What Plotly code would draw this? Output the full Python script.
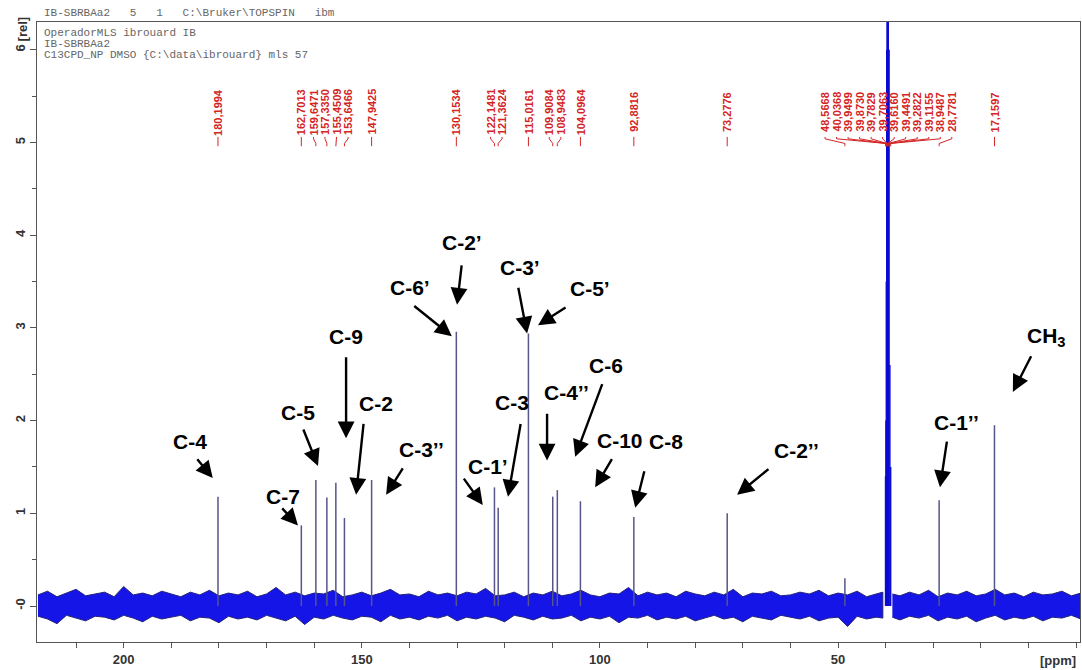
import plotly.graph_objects as go

# ---------------- data ----------------
peaks_ppm = [180.1994, 162.7013, 159.6471, 157.3350, 155.4509, 153.6466, 147.9425,
             130.1534, 122.1481, 121.3624, 115.0161, 109.9084, 108.9483, 104.0964,
             92.8816, 73.2776, 48.5668, 28.7781, 17.1597]
peaks_h = [1.18, 0.87, 1.36, 1.17, 1.33, 0.95, 1.36,
           2.96, 1.28, 1.06, 2.94, 1.18, 1.25, 1.13,
           0.96, 1.00, 0.30, 1.14, 1.95]

dmso_ppm = [40.0368, 39.9499, 39.8730, 39.7829, 39.7063, 39.6160,
            39.4491, 39.2822, 39.1155, 38.9487]
dmso_h = [1.4, 2.0, 3.5, 6.0, 9.0, 9.0, 9.0, 6.0, 2.6, 1.5]

# baseline noise envelope
noise_left_ppm = list(range(218, 41, -2)) + [40.6]
noise_left_hi = [0.12, 0.16, 0.10, 0.14, 0.18, 0.11, 0.13, 0.15, 0.10, 0.21,
                 0.12, 0.14, 0.11, 0.16, 0.13, 0.10, 0.15, 0.12, 0.17, 0.11,
                 0.14, 0.12, 0.16, 0.10, 0.13, 0.20, 0.12, 0.15, 0.11, 0.14,
                 0.13, 0.17, 0.10, 0.12, 0.15, 0.11, 0.14, 0.18, 0.12, 0.13,
                 0.10, 0.16, 0.12, 0.14, 0.11, 0.15, 0.13, 0.19, 0.11, 0.12,
                 0.15, 0.10, 0.14, 0.12, 0.16, 0.11, 0.13, 0.17, 0.12, 0.10,
                 0.14, 0.13, 0.20, 0.11, 0.15, 0.12, 0.14, 0.10, 0.16, 0.13,
                 0.11, 0.15, 0.12, 0.18, 0.10, 0.14, 0.13, 0.16, 0.11, 0.12,
                 0.15, 0.13, 0.17, 0.11, 0.14, 0.12, 0.16, 0.10, 0.13, 0.15]
noise_left_lo = [-0.11, -0.14, -0.19, -0.10, -0.13, -0.16, -0.11, -0.12, -0.15, -0.10,
                 -0.13, -0.17, -0.11, -0.14, -0.12, -0.10, -0.16, -0.12, -0.13, -0.18,
                 -0.11, -0.14, -0.12, -0.15, -0.10, -0.13, -0.16, -0.11, -0.20, -0.12,
                 -0.14, -0.10, -0.13, -0.15, -0.11, -0.12, -0.17, -0.10, -0.14, -0.12,
                 -0.15, -0.11, -0.13, -0.10, -0.16, -0.12, -0.14, -0.11, -0.13, -0.17,
                 -0.10, -0.12, -0.15, -0.11, -0.14, -0.13, -0.10, -0.16, -0.12, -0.14,
                 -0.11, -0.18, -0.12, -0.13, -0.10, -0.15, -0.12, -0.14, -0.11, -0.16,
                 -0.13, -0.10, -0.14, -0.12, -0.17, -0.11, -0.13, -0.15, -0.10, -0.12,
                 -0.14, -0.11, -0.16, -0.13, -0.12, -0.22, -0.11, -0.14, -0.12, -0.13]
noise_right_ppm = [38.6] + list(range(37, -2, -2))
noise_right_hi = [0.13, 0.11, 0.15, 0.12, 0.17, 0.10, 0.14, 0.12, 0.16, 0.11, 0.13,
                  0.18, 0.12, 0.14, 0.10, 0.15, 0.12, 0.13, 0.16, 0.11, 0.14]
noise_right_lo = [-0.12, -0.15, -0.11, -0.13, -0.10, -0.16, -0.12, -0.14, -0.11, -0.17,
                  -0.13, -0.10, -0.15, -0.12, -0.14, -0.11, -0.16, -0.12, -0.13, -0.10, -0.14]

x_major = [200, 150, 100, 50]
y_ticks = [0, 1, 2, 3, 4, 5, 6]
y_ticktext = ["-0", "1", "2", "3", "4", "5", "6"]

header_top = "IB-SBRBAa2   5   1   C:\\Bruker\\TOPSPIN   ibm"
header_lines = ["OperadorMLS ibrouard IB", "IB-SBRBAa2",
                "C13CPD_NP DMSO {C:\\data\\ibrouard} mls 57"]

P = "\u2019"
# (text, text_ppm, text_val, tail_ppm, tail_val, tip_ppm, tip_val)
assignments = [
    ("C-4", 186.1, 1.78, 184.8, 1.60, 181.3, 1.38),
    ("C-7", 166.6, 1.18, 167.0, 1.07, 163.4, 0.87),
    ("C-5", 163.4, 2.09, 162.4, 1.92, 159.2, 1.51),
    ("C-9", 153.3, 2.91, 153.3, 2.70, 153.3, 1.81),
    ("C-2", 147.0, 2.18, 149.6, 1.98, 151.2, 1.20),
    ("C-3" + P + P, 137.4, 1.69, 141.2, 1.50, 144.9, 1.20),
    ("C-6" + P, 139.9, 3.44, 139.3, 3.25, 131.1, 2.91),
    ("C-2" + P, 129.0, 3.92, 129.0, 3.69, 130.0, 3.25),
    ("C-1" + P, 123.5, 1.51, 128.8, 1.39, 124.6, 1.09),
    ("C-3", 118.5, 2.20, 116.6, 1.98, 119.3, 1.18),
    ("C-3" + P, 116.8, 3.65, 117.2, 3.45, 115.3, 2.94),
    ("C-5" + P, 102.1, 3.43, 106.9, 3.23, 113.0, 3.03),
    ("C-4" + P + P, 107.1, 2.30, 111.1, 2.09, 111.1, 1.57),
    ("C-6", 98.7, 2.60, 99.4, 2.41, 105.2, 1.61),
    ("C-10", 95.8, 1.79, 97.3, 1.60, 101.0, 1.28),
    ("C-8", 86.1, 1.77, 90.6, 1.47, 92.6, 1.06),
    ("C-2" + P + P, 58.8, 1.68, 64.3, 1.49, 71.2, 1.20),
    ("C-1" + P + P, 25.2, 1.98, 27.1, 1.79, 28.6, 1.28),
    ("CH<sub>3</sub>", 6.3, 2.90, 9.3, 2.71, 13.3, 2.31),
]

# ---------------- styling constants ----------------
X_RANGE = [218.2, -0.8]
Y_RANGE = [-0.388, 6.30]
LABEL_Y = 5.33
LABEL_SPACING = 2.42  # ppm between neighbouring peak labels
RED = "#d42424"
FONT = "Liberation Sans, Arial, sans-serif"
MONO = "Liberation Mono, Courier New, monospace"

fig = go.Figure()

# noise band
def band(ppm, hi, lo):
    return ppm + ppm[::-1], hi + lo[::-1]

bx1, by1 = band(noise_left_ppm, noise_left_hi, noise_left_lo)
bx2, by2 = band(noise_right_ppm, noise_right_hi, noise_right_lo)
fig.add_trace(go.Scatter(x=bx1 + [None] + bx2, y=by1 + [None] + by2, mode="lines",
                         fill="toself", fillcolor="#1515e8",
                         line=dict(color="#22227a", width=1), hoverinfo="skip",
                         showlegend=False))

# peaks
px, py = [], []
for p, h in zip(peaks_ppm, peaks_h):
    px += [p, p, None]
    py += [0, h, None]
fig.add_trace(go.Scatter(x=px, y=py, mode="lines",
                         line=dict(color="#55558a", width=1.5),
                         showlegend=False, hoverinfo="skip"))

# DMSO multiplet
dx, dy = [], []
for p, h in zip(dmso_ppm, dmso_h):
    dx += [p, p, None]
    dy += [0, h, None]
fig.add_trace(go.Scatter(x=dx, y=dy, mode="lines",
                         line=dict(color="#0a0ad2", width=1.4),
                         showlegend=False, hoverinfo="skip"))

# ---------------- peak labels (spread to avoid overlap) ----------------
all_ppm = sorted(peaks_ppm + dmso_ppm, reverse=True)
clusters = [[v] for v in all_ppm]

def positions(c):
    c0 = sum(c) / len(c)
    n = len(c)
    return [c0 + LABEL_SPACING * ((n - 1) / 2 - i) for i in range(n)]

changed = True
while changed:
    changed = False
    for i in range(len(clusters) - 1):
        a = positions(clusters[i])[-1]
        b = positions(clusters[i + 1])[0]
        if a - b < LABEL_SPACING:
            clusters[i] = clusters[i] + clusters[i + 1]
            del clusters[i + 1]
            changed = True
            break

annotations = []
cx, cy = [], []
for c in clusters:
    for p, lab in zip(c, positions(c)):
        annotations.append(dict(x=lab, y=LABEL_Y, xref="x", yref="y",
                                text="<b>" + f"{p:.4f}".replace(".", ",") + "</b>",
                                textangle=-90, showarrow=False,
                                xanchor="center", yanchor="middle",
                                font=dict(family=FONT, size=11, color=RED)))
        cx += [lab, lab, p, p, None]
        cy += [5.06, 5.04, 4.99, 4.96, None]
fig.add_trace(go.Scatter(x=cx, y=cy, mode="lines", line=dict(color=RED, width=1),
                         showlegend=False, hoverinfo="skip"))

# ---------------- assignment labels with arrows ----------------
for t, tx, ty, ax, ay, x, y in assignments:
    annotations.append(dict(x=x, y=y, ax=ax, ay=ay, xref="x", yref="y",
                            axref="x", ayref="y", text="", showarrow=True,
                            arrowhead=2, arrowsize=1.4, arrowwidth=2.4,
                            arrowcolor="black", standoff=0))
    annotations.append(dict(x=tx, y=ty, xref="x", yref="y", text="<b>" + t + "</b>",
                            showarrow=False, xanchor="center", yanchor="middle",
                            font=dict(family=FONT, size=21, color="black")))

# header texts
annotations.append(dict(x=0, y=1, xref="paper", yref="paper", xanchor="left",
                        yanchor="bottom", xshift=5, yshift=1, text=header_top,
                        showarrow=False, font=dict(family=MONO, size=11, color="#666")))
for i, line in enumerate(header_lines):
    annotations.append(dict(x=0, y=1, xref="paper", yref="paper", xanchor="left",
                            yanchor="middle", xshift=5, yshift=-11 - 11 * i, text=line,
                            showarrow=False, font=dict(family=MONO, size=11, color="#666")))

annotations.append(dict(x=0, y=6.22, xref="paper", yref="y", xshift=-15,
                        text="<b>[rel]</b>", textangle=-90, showarrow=False,
                        xanchor="center", yanchor="middle",
                        font=dict(family=FONT, size=13, color="#333")))
annotations.append(dict(x=1, y=0, xref="paper", yref="paper", xanchor="right",
                        yanchor="middle", xshift=-2, yshift=-18, text="<b>[ppm]</b>",
                        showarrow=False, font=dict(family=FONT, size=13, color="#333")))

x_tickvals = list(range(210, -1, -10))
x_ticktext = [str(v) if v in x_major else "" for v in x_tickvals]
y_minor = [v + 0.5 for v in y_ticks[:-1]]

fig.update_layout(
    width=1082, height=670,
    margin=dict(l=37, r=2, t=22, b=28),
    paper_bgcolor="white", plot_bgcolor="white",
    showlegend=False,
    annotations=annotations,
    xaxis=dict(range=X_RANGE, tickmode="array", tickvals=x_tickvals, ticktext=x_ticktext,
               ticks="outside", ticklen=5, tickcolor="#555", showline=True,
               linecolor="#555", linewidth=1, mirror=True, showgrid=False, zeroline=False,
               tickfont=dict(family=FONT, size=13, color="#333", weight="bold")),
    yaxis=dict(range=Y_RANGE, tickmode="array", tickvals=y_ticks, ticktext=y_ticktext,
               tickangle=-90, ticks="outside", ticklen=6, tickcolor="#555",
               showline=True, linecolor="#555", linewidth=1, mirror=True,
               showgrid=False, zeroline=False,
               minor=dict(tickvals=y_minor, ticks="outside", ticklen=4, tickcolor="#555"),
               tickfont=dict(family=FONT, size=13, color="#333", weight="bold")),
)

fig.write_html("out.html", config={"displayModeBar": False})

# remove the browser's default body margin so the figure fills the window exactly
with open("out.html", encoding="utf-8") as f:
    html = f.read()
html = html.replace("<body>", '<body style="margin:0;padding:0;overflow:hidden;">', 1)
with open("out.html", "w", encoding="utf-8") as f:
    f.write(html)
